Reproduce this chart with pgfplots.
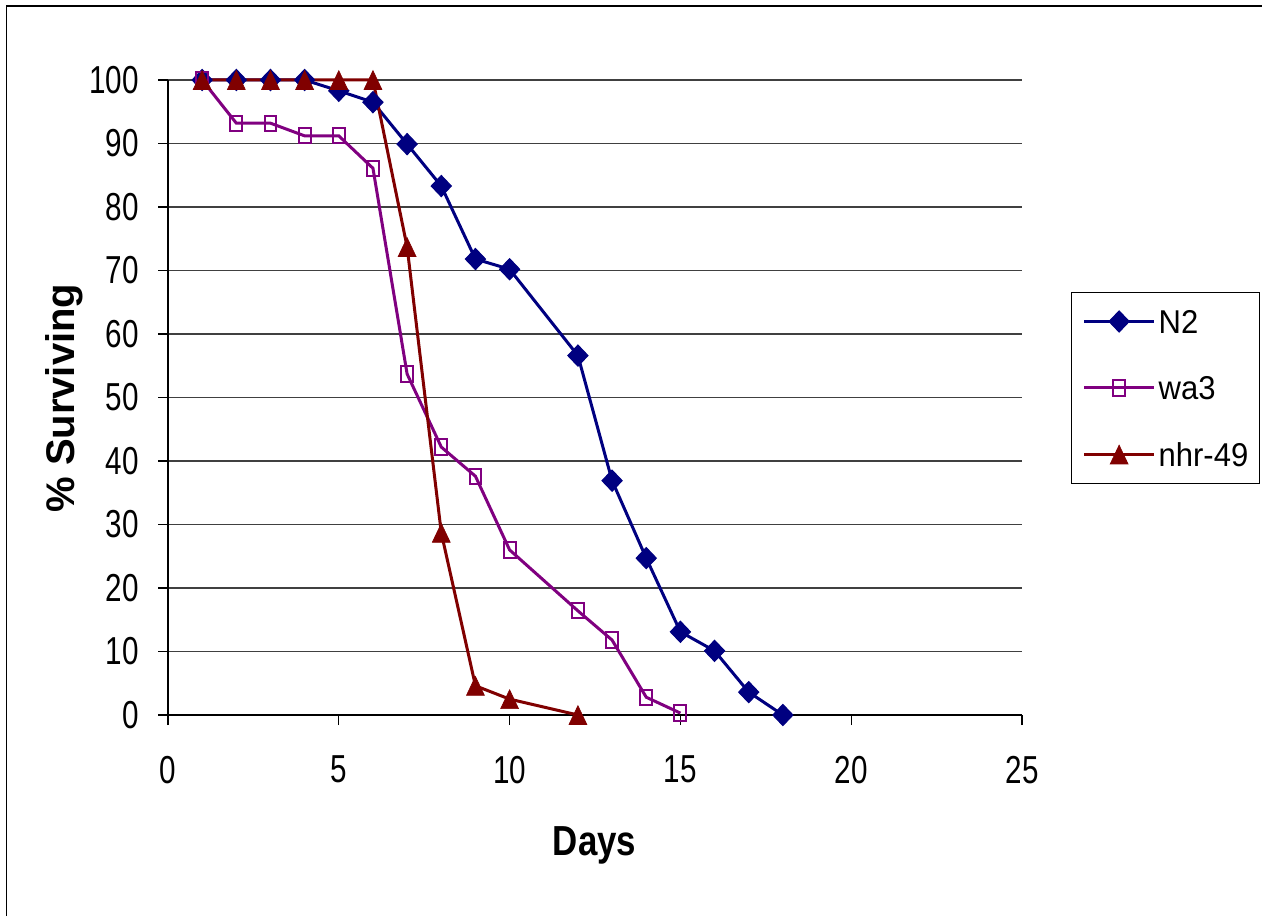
\documentclass[border=0pt]{standalone}
\usepackage{fontspec}
\setmainfont{Liberation Sans}
\newfontfamily\tickfont[FakeStretch=0.76]{Liberation Sans}
\newfontfamily\daysfont[FakeStretch=0.83]{Liberation Sans}
\newfontfamily\legfont[FakeStretch=0.94]{Liberation Sans}
\usepackage{pgfplots}
\pgfplotsset{compat=1.18}
\definecolor{cN}{RGB}{0,0,128}
\definecolor{cW}{RGB}{128,0,128}
\definecolor{cH}{RGB}{128,0,0}
\begin{document}
\begin{tikzpicture}
\useasboundingbox (0,0) rectangle (631pt,458pt);
\draw[line width=0.75pt] (3.3pt,0) -- (3.3pt,455pt) -- (631pt,455pt);
\begin{axis}[
  at={(84pt,100.5pt)}, anchor=south west,
  scale only axis, width=427pt, height=317.5pt,
  xmin=0, xmax=25, ymin=0, ymax=100,
  xtick={0,5,...,25}, ytick={0,10,...,100},
  axis lines*=left,
  axis line style={line width=0.6pt, black},
  tick align=outside, major tick length=5pt,
  tick style={line width=0.6pt, black},
  ymajorgrids, grid style={line width=0.6pt, black!75},
  clip=false,
  /pgf/number format/assume math mode=true,
  ticklabel style={font=\tickfont\fontsize{19.5}{23}\selectfont},
  xticklabel style={yshift=-12pt},
  yticklabel style={xshift=-6pt},
  xlabel={Days},
  xlabel style={font=\daysfont\bfseries\fontsize{21}{25}\selectfont, at={(axis description cs:0.4995,-0.2205)}, anchor=base},
  ylabel={\% Surviving},
  ylabel style={font=\bfseries\fontsize{20}{24}\selectfont, at={(axis description cs:-0.1089,0.499)}, anchor=base},
  legend style={at={(1.0574,0.515)}, anchor=west, draw=black, line width=0.6pt,
    font=\legfont\fontsize{16.5}{19}\selectfont,
    nodes={inner sep=0pt, text height=12pt, text depth=0pt, anchor=west},
    row sep=21.25pt, inner xsep=5.5pt, inner ysep=8.5pt, column sep=1.5pt},
  legend cell align=left,
  legend image code/.code={\draw[#1, mark repeat=2, mark phase=2] plot coordinates {(0pt,0pt) (17.5pt,0pt) (35pt,0pt)};},
]
\addplot[cN, line width=1.5pt, mark=diamond*, mark size=5.3pt, mark options={solid, fill=cN, line width=0.5pt, xscale=1.27}]
coordinates {(1,100) (2,100) (3,100) (4,100) (5,98.3) (6,96.5) (7,89.9) (8,83.3) (9,71.8) (10,70.2) (12,56.6) (13,36.9) (14,24.7) (15,13.1) (16,10.1) (17,3.6) (18,0)};
\addlegendentry{N2}
\addplot[cW, line width=1.5pt, mark=square, mark size=3.8pt, mark options={solid, fill=white, line width=1pt, xscale=0.78}]
coordinates {(1,100) (2,93.2) (3,93.2) (4,91.2) (5,91.2) (6,86.1) (7,53.7) (8,42.2) (9,37.6) (10,26.0) (12,16.4) (13,11.8) (14,2.8) (15,0.3)};
\addlegendentry{wa3}
\addplot[cH, line width=1.5pt, mark=triangle*, mark size=6.3pt, mark options={solid, fill=cH, line width=0.3pt, xscale=0.82, yshift=-1.6pt}]
coordinates {(1,100) (2,100) (3,100) (4,100) (5,100) (6,100) (7,73.7) (8,28.7) (9,4.6) (10,2.5) (12,0)};
\addlegendentry{nhr-49}
\end{axis}
\end{tikzpicture}
\end{document}
